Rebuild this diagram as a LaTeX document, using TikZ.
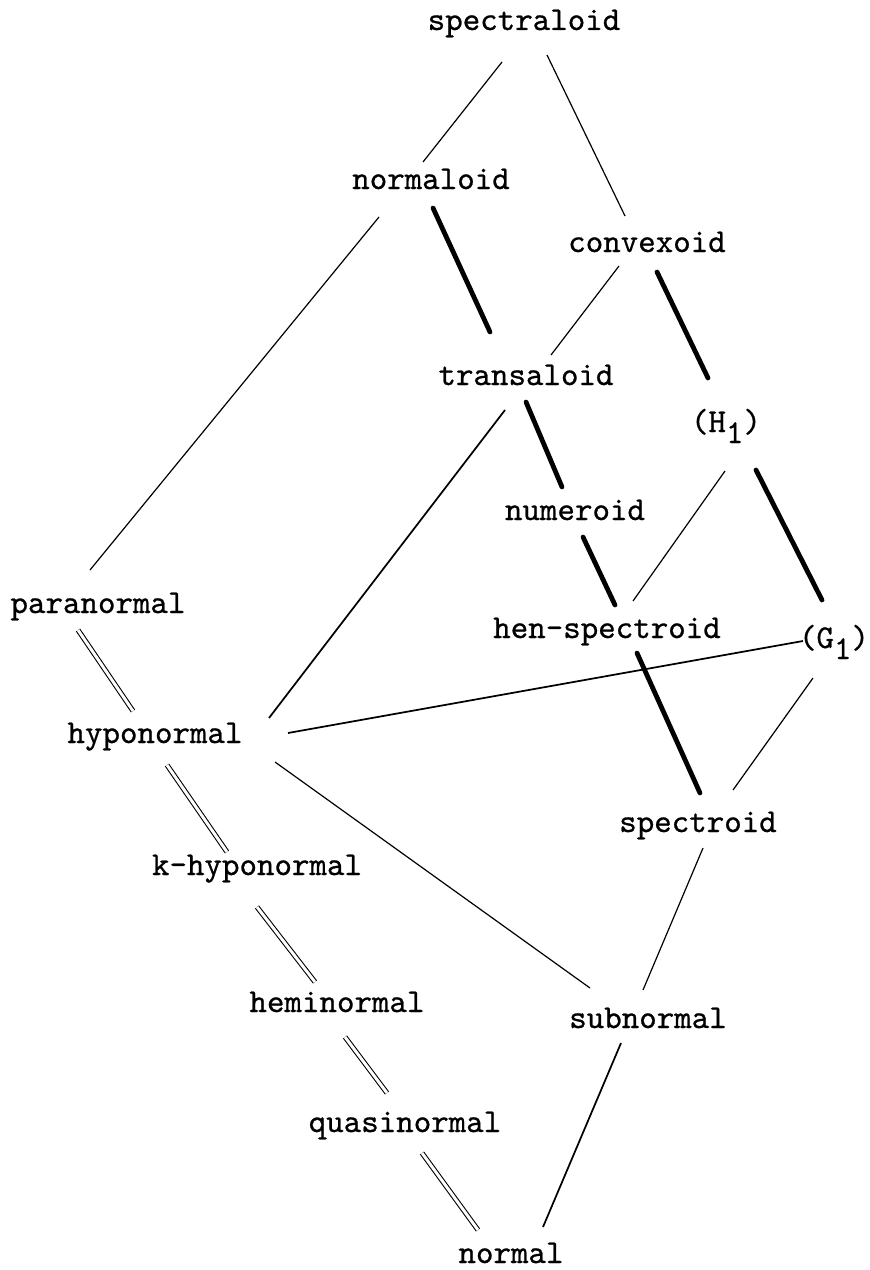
\documentclass[tikz,border=0pt]{standalone}
\usepackage{fontspec}
\newfontfamily\twfont[FakeBold=0.7]{lmmono10-regular.otf}
\usepackage{tikz}
\tikzset{
  lbl/.style={anchor=base, inner sep=0pt, font=\twfont\fontsize{25}{30}\selectfont},
  thinln/.style={line width=0.9pt},
  medln/.style={line width=1.3pt},
  thickln/.style={line width=3.6pt, line cap=round},
  dbl/.style={double, double distance=2.2pt, line width=0.8pt},
}
\newcommand{\sbs}[1]{\raisebox{-0.33em}{#1}}
\begin{document}
\begin{tikzpicture}[x=0.75pt,y=-0.75pt]
\fill[white] (0,0) rectangle (870,1270);
\useasboundingbox (0,0) rectangle (870,1270);
% nodes
\node[lbl] (spec) at (524,30) {spectraloid};
\node[lbl] (normaloid) at (431,189) {normaloid};
\node[lbl] (convexoid) at (647,252) {convexoid};
\node[lbl] (transaloid) at (526,385) {transaloid};
\node[lbl] (H1) at (726,432) {(H\sbs{1})};
\node[lbl] (numeroid) at (575,520) {numeroid};
\node[lbl] (paranormal) at (98,613) {paranormal};
\node[lbl] (hen) at (607,638) {hen-spectroid};
\node[lbl] (G1) at (834,648) {(G\sbs{1})};
\node[lbl] (hypo) at (155,743) {hyponormal};
\node[lbl] (spectroid) at (698,832) {spectroid};
\node[lbl] (khypo) at (257,875) {k-hyponormal};
\node[lbl] (hemi) at (337,1012) {heminormal};
\node[lbl] (subnormal) at (648,1028) {subnormal};
\node[lbl] (quasi) at (405,1132) {quasinormal};
\node[lbl] (normal) at (511,1263) {normal};
% connectors
\draw[thinln] ([shift={(-22,32)}]spec.base) -- ([shift={(-8,-27)}]normaloid.base);
\draw[thinln] ([shift={(23,25)}]spec.base) -- ([shift={(-22,-36)}]convexoid.base);
\draw[thinln] ([shift={(-52,28)}]normaloid.base) -- ([shift={(-8,-43)}]paranormal.base);
\draw[thickln] ([shift={(2,19)}]normaloid.base) -- ([shift={(-36,-53)}]transaloid.base);
\draw[thinln] ([shift={(-28,14)}]convexoid.base) -- ([shift={(25,-30)}]transaloid.base);
\draw[thickln] ([shift={(10,20)}]convexoid.base) -- ([shift={(-18,-54)}]H1.base);
\draw[thickln] ([shift={(0,17)}]transaloid.base) -- ([shift={(-13,-33)}]numeroid.base);
\draw[medln] ([shift={(-21,25)}]transaloid.base) -- ([shift={(114,-25)}]hypo.base);
\draw[thickln] ([shift={(8,17)}]numeroid.base) -- ([shift={(8,-33)}]hen.base);
\draw[thinln] ([shift={(-1,39)}]H1.base) -- ([shift={(26,-37)}]hen.base);
\draw[thickln] ([shift={(30,38)}]H1.base) -- ([shift={(-12,-48)}]G1.base);
\draw[dbl] ([shift={(-20,17)}]paranormal.base) -- ([shift={(-22,-32)}]hypo.base);
\draw[medln] ([shift={(133,-10)}]hypo.base) -- ([shift={(-31,-7)}]G1.base);
\draw[thickln] ([shift={(30,15)}]hen.base) -- ([shift={(2,-39)}]spectroid.base);
\draw[thinln] ([shift={(-21,30)}]G1.base) -- ([shift={(35,-42)}]spectroid.base);
\draw[thinln] ([shift={(120,19)}]hypo.base) -- ([shift={(-58,-40)}]subnormal.base);
\draw[dbl] ([shift={(12,22)}]hypo.base) -- ([shift={(-30,-23)}]khypo.base);
\draw[dbl] ([shift={(0,32)}]khypo.base) -- ([shift={(-22,-30)}]hemi.base);
\draw[dbl] ([shift={(8,25)}]hemi.base) -- ([shift={(-18,-39)}]quasi.base);
\draw[dbl] ([shift={(17,21)}]quasi.base) -- ([shift={(-33,-33)}]normal.base);
\draw[thinln] ([shift={(5,16)}]spectroid.base) -- ([shift={(-5,-38)}]subnormal.base);
\draw[medln] ([shift={(-27,15)}]subnormal.base) -- ([shift={(32,-36)}]normal.base);
\end{tikzpicture}
\end{document}
